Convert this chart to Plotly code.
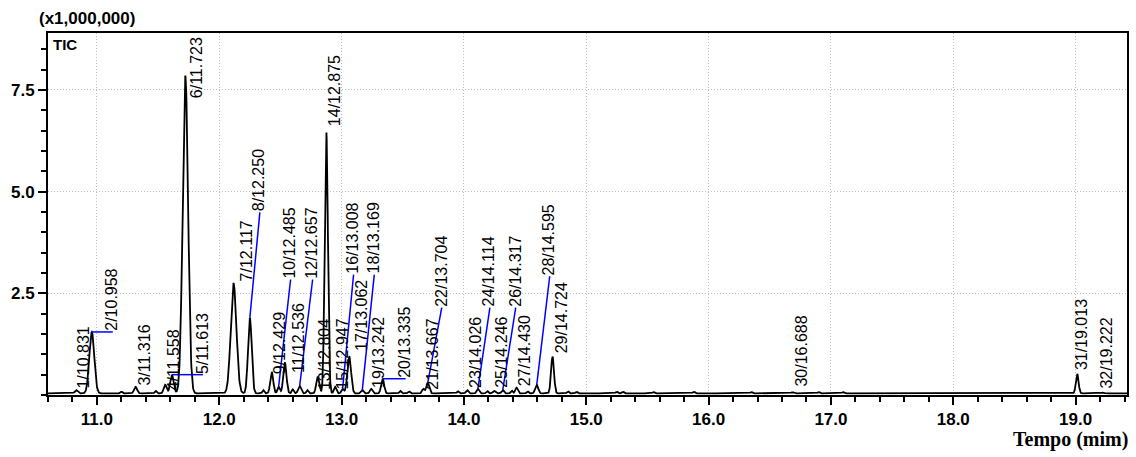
import numpy as np
import plotly.graph_objects as go

# ---- data ----
peak_no = list(range(1, 33))
peak_rt = [10.831, 10.958, 11.316, 11.558, 11.613, 11.723, 12.117, 12.250, 12.429, 12.485,
           12.536, 12.657, 12.804, 12.875, 12.947, 13.008, 13.062, 13.169, 13.242, 13.335,
           13.667, 13.704, 14.026, 14.114, 14.246, 14.317, 14.430, 14.595, 14.724, 16.688,
           19.013, 19.222]
peak_height = [0.12, 1.55, 0.20, 0.25, 0.50, 7.84, 2.74, 1.90, 0.57, 0.20,
               0.80, 0.22, 0.45, 6.47, 0.20, 0.15, 0.95, 0.12, 0.15, 0.40,
               0.15, 0.30, 0.12, 0.15, 0.10, 0.12, 0.18, 0.25, 0.94, 0.07,
               0.52, 0.06]
peak_sigma = [0.012, 0.020, 0.012, 0.012, 0.014, 0.022, 0.023, 0.015, 0.012, 0.010,
              0.013, 0.012, 0.012, 0.013, 0.010, 0.010, 0.015, 0.010, 0.010, 0.012,
              0.010, 0.012, 0.010, 0.010, 0.010, 0.010, 0.010, 0.012, 0.012, 0.010,
              0.011, 0.010]
minor_rt = [11.20, 11.48, 12.36, 12.60, 12.72, 13.48, 13.55, 13.95, 14.19, 14.39, 14.52,
            14.85, 14.92, 15.25, 15.30, 15.55, 15.88, 16.35, 16.90, 17.10]
minor_height = [0.04, 0.06, 0.08, 0.10, 0.08, 0.06, 0.05, 0.05, 0.06, 0.07, 0.05,
                0.05, 0.04, 0.04, 0.04, 0.03, 0.04, 0.03, 0.03, 0.03]
baseline_level = 0.04

# ---- label layout (pixel offsets and label base heights) ----
label_dx = [7, 20, 9, 8, 30, 11, 13, 9, 8, 11, 13, 12, 7, 9, 7, 10, 13, 11, 8, 22,
            9, 13, 9, 11, 8, 12, 8, 12, 9, 9, 5, 4]
label_base = [0.14, 1.55, 0.21, 0.08, 0.50, 7.27, 2.77, 4.49, 0.48, 2.84,
              0.51, 2.84, 0.10, 6.58, 0.10, 2.96, 1.05, 2.96, 0.14, 0.40,
              0.10, 2.15, 0.14, 2.15, 0.14, 2.15, 0.19, 2.92, 1.00, 0.19,
              0.58, 0.14]
has_leader = [0, 1, 0, 0, 1, 0, 0, 1, 0, 1, 0, 1, 0, 0, 0, 1, 0, 1, 0, 1,
              0, 1, 0, 1, 0, 1, 0, 1, 0, 0, 0, 0]

x_range = [10.6, 19.42]
y_range = [0, 8.9]
x_major = [11.0, 12.0, 13.0, 14.0, 15.0, 16.0, 17.0, 18.0, 19.0]
y_major = [2.5, 5.0, 7.5]

# ---- figure geometry ----
W, H = 1136, 457
ML, MR, MT, MB = 48, 9, 33, 62
plot_w = W - ML - MR
px_to_min = (x_range[1] - x_range[0]) / plot_w

# ---- chromatogram trace built from the peak table ----
t = np.arange(x_range[0], x_range[1], 0.002)
signal = np.full_like(t, baseline_level)
for rt, h, s in zip(peak_rt, peak_height, peak_sigma):
    signal += (h - baseline_level) * np.exp(-0.5 * ((t - rt) / s) ** 2)
for rt, h in zip(minor_rt, minor_height):
    signal += h * np.exp(-0.5 * ((t - rt) / 0.008) ** 2)

fig = go.Figure()
fig.add_trace(go.Scatter(x=t, y=signal, mode="lines",
                         line=dict(color="black", width=1.8),
                         hoverinfo="skip", showlegend=False))

label_font = dict(family="Arial, Liberation Sans, sans-serif", size=16, color="black")
annotations = []
shapes = []
for n, rt, h, dx, base, lead in zip(peak_no, peak_rt, peak_height, label_dx, label_base, has_leader):
    annotations.append(dict(
        x=rt, y=base, xref="x", yref="y", text=f"{n}/{rt:.3f}",
        textangle=-90, xanchor="center", yanchor="bottom", xshift=dx,
        showarrow=False, font=label_font, borderpad=0))
    if lead:
        shapes.append(dict(type="line", xref="x", yref="y",
                           x0=rt, y0=h, x1=rt + (dx + 1) * px_to_min, y1=base,
                           line=dict(color="#0000FF", width=1.5)))

annotations.append(dict(text="<b>(x1,000,000)</b>", xref="paper", yref="paper",
                        x=-11 / plot_w, y=1.008, xanchor="left", yanchor="bottom",
                        showarrow=False,
                        font=dict(family="Arial, Liberation Sans, sans-serif", size=17, color="black")))
annotations.append(dict(text="<b>TIC</b>", xref="paper", yref="paper",
                        x=0.003, y=0.997, xanchor="left", yanchor="top", showarrow=False,
                        font=dict(family="Arial, Liberation Sans, sans-serif", size=15, color="black")))
annotations.append(dict(text="<b>Tempo (mim)</b>", xref="paper", yref="paper",
                        x=1 + 3 / plot_w, y=-0.124, xanchor="right", yanchor="middle",
                        showarrow=False,
                        font=dict(family="Liberation Serif, Times New Roman, serif", size=20, color="black")))

tick_font = dict(family="Arial, Liberation Sans, sans-serif", size=17, color="black")
grid_color = "#bdbdbd"
fig.update_layout(
    width=W, height=H,
    margin=dict(l=ML, r=MR, t=MT, b=MB),
    paper_bgcolor="white", plot_bgcolor="white",
    annotations=annotations, shapes=shapes,
    xaxis=dict(range=x_range, tickmode="array", tickvals=x_major,
               ticktext=[f"<b>{v:.1f}</b>" for v in x_major],
               ticks="outside", ticklen=8, tickwidth=2, tickcolor="black",
               showline=True, linecolor="black", linewidth=2, mirror=True,
               showgrid=True, gridcolor=grid_color, griddash="1px,2px", gridwidth=1,
               zeroline=False, tickfont=tick_font, automargin=False,
               minor=dict(tickmode="linear", tick0=11.0, dtick=0.2, ticks="outside",
                          ticklen=5, tickwidth=1.5, tickcolor="black", showgrid=False)),
    yaxis=dict(range=y_range, tickmode="array", tickvals=y_major,
               ticktext=[f"<b>{v:.1f}</b>" for v in y_major],
               ticks="outside", ticklen=8, tickwidth=2, tickcolor="black",
               showline=True, linecolor="black", linewidth=2, mirror=True,
               showgrid=True, gridcolor=grid_color, griddash="1px,2px", gridwidth=1,
               zeroline=False, tickfont=tick_font, automargin=False,
               minor=dict(tickmode="linear", tick0=0, dtick=0.5, ticks="outside",
                          ticklen=5, tickwidth=1.5, tickcolor="black", showgrid=False)),
)

fig.write_html("out.html", config={"displayModeBar": False},
               post_script="document.body.style.margin='0';document.body.style.overflow='hidden';")
